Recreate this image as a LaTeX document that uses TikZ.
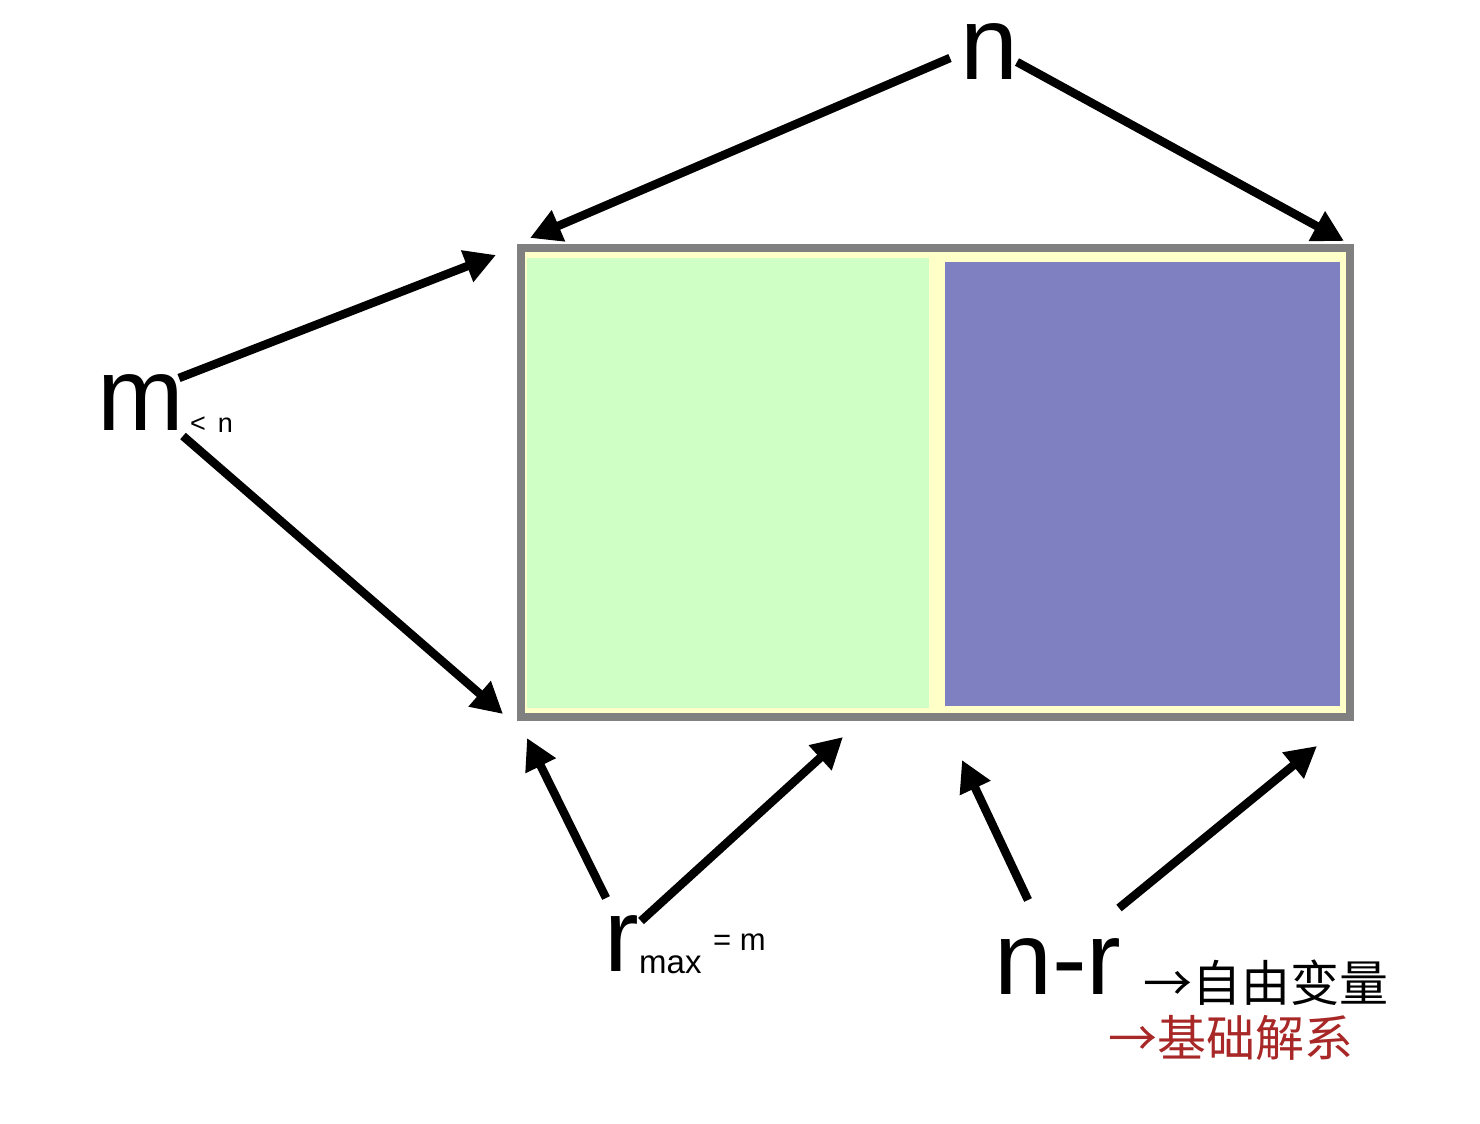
\documentclass[tikz,border=0pt]{standalone}
\usepackage{fontspec}
\setmainfont{Liberation Sans}
\newfontfamily\cjk{Noto Sans CJK SC}
\usetikzlibrary{arrows.meta}
\definecolor{boxgray}{RGB}{128,128,128}
\definecolor{boxyellow}{RGB}{255,255,200}
\definecolor{boxgreen}{RGB}{207,255,196}
\definecolor{boxblue}{RGB}{126,128,194}
\definecolor{darkred}{RGB}{168,40,40}
\tikzset{
  bigarrow/.style={line width=8.5pt, -{Triangle[length=31pt,width=32pt]}, black},
  biglabel/.style={inner sep=0pt, anchor=base west, font=\fontsize{104}{110}\selectfont},
  sublabel/.style={inner sep=0pt, anchor=base west},
}
\begin{document}
\begin{tikzpicture}[x=1pt,y=-1pt]
\useasboundingbox (0,0) rectangle (1480,1124);
% main box
\node[draw=boxgray, line width=8pt, fill=boxyellow, minimum width=829pt, minimum height=469pt, inner sep=0pt, outer sep=0pt, anchor=north west] (box) at (521,248) {};
\fill[boxgreen] (527,258) rectangle (929,708);
\fill[boxblue] (945,262) rectangle (1340,706);
% labels
\node[biglabel] (n) at (960,80) {n};
\node[biglabel] (m) at (97,430) {m};
\node[sublabel, font=\fontsize{27}{30}\selectfont] (mn) at (190,432) {<\hspace{12pt}n};
\node[biglabel] (r) at (604,971) {r};
\node[sublabel, font=\fontsize{33}{36}\selectfont] (rmax) at (639,973) {max};
\node[sublabel, font=\fontsize{31}{34}\selectfont] (req) at (713,950) {= m};
\node[biglabel] (nr) at (994,994) {n-r};
\node[sublabel, font=\cjk\fontsize{49}{54}\selectfont] (free) at (1143,1001) {→自由变量};
\node[sublabel, font=\cjk\fontsize{49}{54}\selectfont, text=darkred] (basis) at (1108,1056) {→基础解系};
% arrow end points
\coordinate (a1s) at (950,58);   \coordinate (a1e) at (530,238);
\coordinate (a2s) at (1017,62);  \coordinate (a2e) at (1344,241);
\coordinate (a3s) at (179,378);  \coordinate (a3e) at (496,255);
\coordinate (a4s) at (183,436);  \coordinate (a4e) at (503,714);
\coordinate (a5s) at (606,898);  \coordinate (a5e) at (527,738);
\coordinate (a6s) at (641,921);  \coordinate (a6e) at (843,737);
\coordinate (a7s) at (1028,900); \coordinate (a7e) at (962,760);
\coordinate (a8s) at (1119,908); \coordinate (a8e) at (1317,746);
\draw[bigarrow] (a1s) -- (a1e);
\draw[bigarrow] (a2s) -- (a2e);
\draw[bigarrow] (a3s) -- (a3e);
\draw[bigarrow] (a4s) -- (a4e);
\draw[bigarrow] (a5s) -- (a5e);
\draw[bigarrow] (a6s) -- (a6e);
\draw[bigarrow] (a7s) -- (a7e);
\draw[bigarrow] (a8s) -- (a8e);
\end{tikzpicture}
\end{document}
